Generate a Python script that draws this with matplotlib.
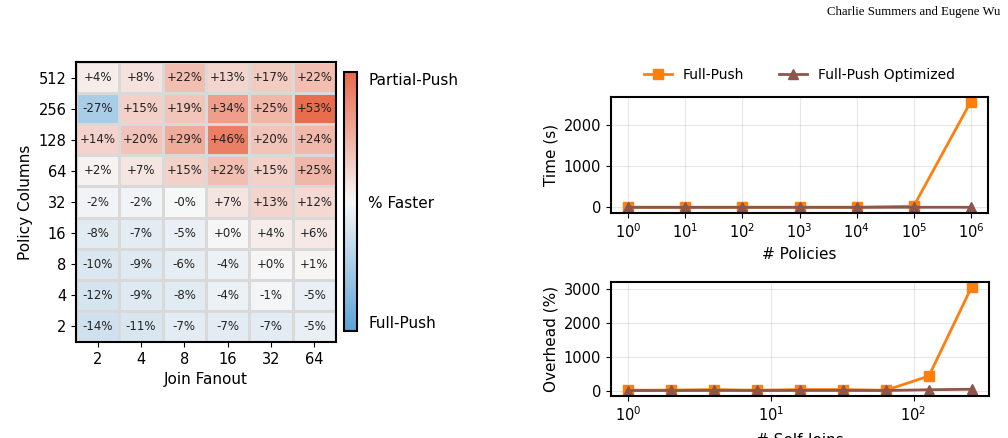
import numpy as np
import matplotlib.pyplot as plt
from matplotlib.colors import LinearSegmentedColormap

# ---- Data ----
fanout = [2, 4, 8, 16, 32, 64]
policy_cols = [512, 256, 128, 64, 32, 16, 8, 4, 2]
pct_faster = [
    [4, 8, 22, 13, 17, 22],
    [-27, 15, 19, 34, 25, 53],
    [14, 20, 29, 46, 20, 24],
    [2, 7, 15, 22, 15, 25],
    [-2, -2, -0.4, 7, 13, 12],
    [-8, -7, -5, 0, 4, 6],
    [-10, -9, -6, -4, 0, 1],
    [-12, -9, -8, -4, -1, -5],
    [-14, -11, -7, -7, -7, -5],
]

n_policies = [1, 10, 100, 1000, 10000, 100000, 1000000]
time_full = [5, 5, 5, 5, 5, 30, 2570]
time_opt = [1, 1, 1, 1, 1, 3, 3]

n_selfjoins = [1, 2, 4, 8, 16, 32, 64, 128, 256]
ovh_full = [10, 15, 30, 10, 30, 30, 10, 430, 3080]
ovh_opt = [2, 3, 5, 3, 5, 5, 3, 25, 40]

# ---- Figure ----
fig = plt.figure(figsize=(10.08, 4.38), dpi=100)
W, H = 1008, 438

def rect(x0, y0, x1, y1):
    return [x0 / W, 1 - y1 / H, (x1 - x0) / W, (y1 - y0) / H]

cmap = LinearSegmentedColormap.from_list("pp", ["#5aa2d6", "#f7f7f7", "#e8694a"])

ax = fig.add_axes(rect(76, 62, 336, 342))
data = np.array(pct_faster)
im = ax.pcolormesh(data[::-1], cmap=cmap, vmin=-55, vmax=55,
                   edgecolors="#d9d9d9", linewidth=1)
for i in range(len(policy_cols)):
    for j in range(len(fanout)):
        v = pct_faster[i][j]
        s = f"{v:+.0f}%"
        if v < 0 and round(v) == 0:
            s = "-0%"
        ax.text(j + 0.5, len(policy_cols) - i - 0.5, s, ha="center", va="center",
                fontsize=8.5, color="#222222")
ax.set_xticks(np.arange(len(fanout)) + 0.5)
ax.set_xticklabels(fanout, fontsize=10.5)
ax.set_yticks(np.arange(len(policy_cols)) + 0.5)
ax.set_yticklabels(policy_cols[::-1], fontsize=10.5)
ax.set_xlabel("Join Fanout", fontsize=11)
ax.set_ylabel("Policy Columns", fontsize=11)
for sp in ax.spines.values():
    sp.set_linewidth(1.5)

cax = fig.add_axes(rect(344, 72, 357, 331))
cb = fig.colorbar(im, cax=cax)
cb.set_ticks([-51, 0, 52])
cb.set_ticklabels(["Full-Push", "% Faster", "Partial-Push"])
cb.ax.tick_params(length=0, labelsize=11, pad=8)
cb.outline.set_linewidth(1.5)

# ---- Right: time vs policies ----
orange = "#ff7f0e"
brown = "#8c564b"

ax1 = fig.add_axes(rect(611, 97, 988, 213))
ax1.plot(n_policies, time_full, marker="s", color=orange, label="Full-Push", linewidth=2, markersize=7)
ax1.plot(n_policies, time_opt, marker="^", color=brown, label="Full-Push Optimized", linewidth=2, markersize=7)
ax1.set_xscale("log")
ax1.set_xticks(n_policies)
ax1.minorticks_off()
ax1.set_ylim(-136, 2680)
ax1.set_yticks([0, 1000, 2000])
ax1.grid(True, alpha=0.3)
ax1.set_xlabel("# Policies", fontsize=11)
ax1.set_ylabel("Time (s)", fontsize=11)
ax1.tick_params(labelsize=10.5)
for sp in ax1.spines.values():
    sp.set_linewidth(1.5)
ax1.legend(loc="lower center", bbox_to_anchor=(0.5, 1.02), ncol=2, frameon=False,
           fontsize=10, columnspacing=2.5)

# ---- Right: overhead vs self-joins ----
ax2 = fig.add_axes(rect(611, 282, 989, 396))
ax2.plot(n_selfjoins, ovh_full, marker="s", color=orange, linewidth=2, markersize=7)
ax2.plot(n_selfjoins, ovh_opt, marker="^", color=brown, linewidth=2, markersize=7)
ax2.set_xscale("log")
ax2.minorticks_off()
ax2.set_ylim(-160, 3215)
ax2.set_yticks([0, 1000, 2000, 3000])
ax2.grid(True, alpha=0.3)
ax2.set_xlabel("# Self-Joins", fontsize=11, labelpad=6)
ax2.set_ylabel("Overhead (%)", fontsize=11)
ax2.tick_params(labelsize=10.5)
for sp in ax2.spines.values():
    sp.set_linewidth(1.5)

fig.text(0.992, 1 - 12 / H, "Charlie Summers and Eugene Wu", ha="right", va="center",
         fontsize=9.2, family="Liberation Serif")

fig.savefig("out.png", dpi=100)
